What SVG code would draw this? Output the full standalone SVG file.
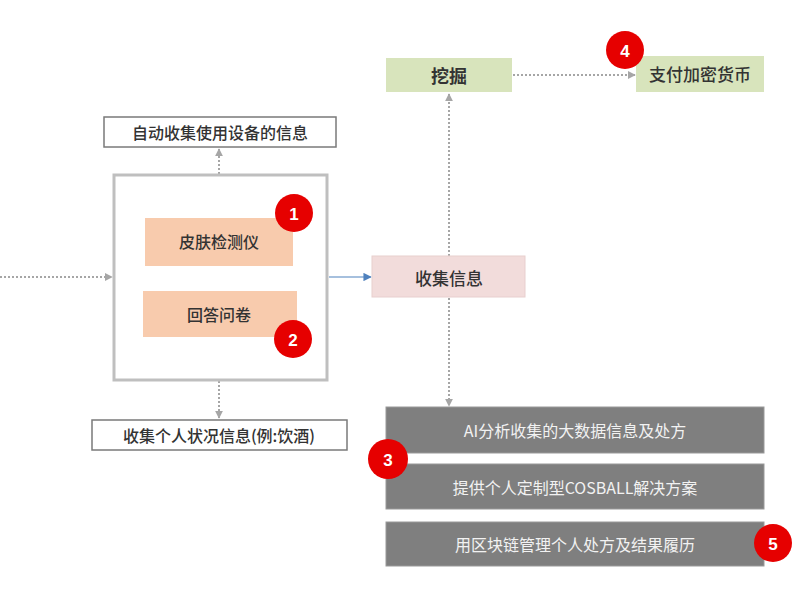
<svg xmlns="http://www.w3.org/2000/svg" width="800" height="600" viewBox="0 0 800 600">
<style>
  text { font-family: "Noto Sans CJK SC", "Liberation Sans", sans-serif; text-anchor: middle; dominant-baseline: central; }
  .lbl { font-size: 16px; fill: #333; font-weight: 500; }
  .big { font-size: 17px; fill: #333; font-weight: 500; }
  .bold { font-weight: bold; font-size: 18px; fill: #333; }
  .wht { font-size: 16px; fill: #f2f2f2; }
  .outline { fill: #fff; stroke: #7a7a7a; stroke-width: 1.5; }
  .peach { fill: #f8cbad; }
  .pink { fill: #f2dcdb; stroke: #e8cfce; stroke-width: 1; }
  .green { fill: #d8e4bc; }
  .gray { fill: #7f7f7f; stroke: #9a9a9a; stroke-width: 1; }
  .badge circle { fill: #e60000; }
  .badge text { font-family: "Liberation Sans", sans-serif; font-weight: bold; font-size: 17px; fill: #fff; }
  .dot { stroke: #a6a6a6; stroke-width: 2; stroke-dasharray: 2 2; fill: none; }
  .blue { stroke: #4f81bd; stroke-width: 1.2; fill: none; }
</style>
<defs>
  <marker id="ga" viewBox="0 0 10 10" refX="9" refY="5" markerWidth="4" markerHeight="4" orient="auto">
    <path d="M0,0 L10,5 L0,10 z" fill="#a6a6a6"/>
  </marker>
  <marker id="ba" viewBox="0 0 10 10" refX="9" refY="5" markerWidth="7" markerHeight="7" orient="auto">
    <path d="M0,0 L10,5 L0,10 z" fill="#4f81bd"/>
  </marker>
</defs>
<rect width="800" height="600" fill="#fff"/>

<g id="connectors">
  <line class="dot" x1="0" y1="277" x2="112" y2="277" marker-end="url(#ga)"/>
  <line class="dot" x1="219" y1="218" x2="219" y2="149" marker-end="url(#ga)"/>
  <line class="dot" x1="219" y1="337" x2="219" y2="418" marker-end="url(#ga)"/>
  <line class="blue" x1="329" y1="277" x2="371" y2="277" marker-end="url(#ba)"/>
  <line class="dot" x1="449" y1="256" x2="449" y2="94" marker-end="url(#ga)"/>
  <line class="dot" x1="449" y1="298" x2="449" y2="406" marker-end="url(#ga)"/>
  <line class="dot" x1="513" y1="75" x2="635" y2="75" marker-end="url(#ga)"/>
</g>

<g id="container">
  <rect x="114" y="175" width="213" height="205" fill="#fff" stroke="#bfbfbf" stroke-width="3"/>
</g>

<g id="auto-collect">
  <rect class="outline" x="104" y="117" width="232" height="30"/>
  <text class="lbl" x="220" y="132">自动收集使用设备的信息</text>
</g>

<g id="skin-tester">
  <rect class="peach" x="145" y="218" width="148" height="48"/>
  <text class="lbl" x="219" y="241">皮肤检测仪</text>
</g>

<g id="questionnaire">
  <rect class="peach" x="143" y="291" width="154" height="46"/>
  <text class="lbl" x="219" y="314">回答问卷</text>
</g>

<g id="personal-info">
  <rect class="outline" x="92" y="420" width="255" height="30"/>
  <text class="lbl" x="219" y="435">收集个人状况信息(例:饮酒)</text>
</g>

<g id="collect-info">
  <rect class="pink" x="372" y="256" width="153" height="41"/>
  <text class="big" x="449" y="277">收集信息</text>
</g>

<g id="mining">
  <rect class="green" x="386" y="58" width="126" height="34"/>
  <text class="bold" x="449" y="75">挖掘</text>
</g>

<g id="pay-crypto">
  <rect class="green" x="636" y="56" width="128" height="36"/>
  <text class="big" x="700" y="73">支付加密货币</text>
</g>

<g id="ai-analysis">
  <rect class="gray" x="386" y="407" width="378" height="46"/>
  <text class="wht" x="575" y="430">AI分析收集的大数据信息及处方</text>
</g>

<g id="custom-solution">
  <rect class="gray" x="386" y="464" width="378" height="45"/>
  <text class="wht" x="575" y="487">提供个人定制型COSBALL解决方案</text>
</g>

<g id="blockchain">
  <rect class="gray" x="386" y="522" width="378" height="44"/>
  <text class="wht" x="575" y="544">用区块链管理个人处方及结果履历</text>
</g>

<g id="badge-1" class="badge"><circle cx="294" cy="213" r="19"/><text x="294" y="214">1</text></g>
<g id="badge-2" class="badge"><circle cx="293" cy="339" r="19"/><text x="293" y="340">2</text></g>
<g id="badge-3" class="badge"><circle cx="388" cy="459" r="20"/><text x="388" y="460">3</text></g>
<g id="badge-4" class="badge"><circle cx="625" cy="50" r="19"/><text x="625" y="51">4</text></g>
<g id="badge-5" class="badge"><circle cx="773" cy="543" r="19"/><text x="773" y="544">5</text></g>
</svg>
